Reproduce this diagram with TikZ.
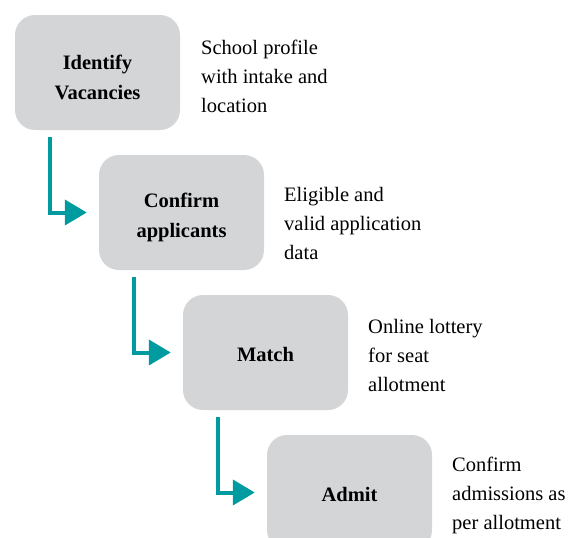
\documentclass[tikz,border=0pt]{standalone}
\usepackage{fontspec}
\setmainfont{Liberation Serif}
\usetikzlibrary{arrows.meta,calc}
\definecolor{boxgray}{RGB}{212,213,215}
\definecolor{tealc}{RGB}{0,155,160}
\begin{document}
\begin{tikzpicture}[x=1pt,y=-1pt,
  stepbox/.style={fill=boxgray, rounded corners=20pt, minimum width=165pt, minimum height=115pt,
    inner sep=0pt},
  steptext/.style={font=\fontsize{20.5}{30}\selectfont\bfseries, align=center, inner sep=0pt},
  note/.style={anchor=west, font=\fontsize{20.5}{29}\selectfont, align=left, inner sep=0pt},
  flow/.style={draw=tealc, line width=4pt, -{Triangle[length=22pt,width=25pt]}}]
\useasboundingbox (0,0) rectangle (582,538);
\clip (0,0) rectangle (582,538);
\node[stepbox] (b1) at (97.5,72.5) {};
\node[stepbox] (b2) at (181.5,212.5) {};
\node[stepbox] (b3) at (265.5,352.5) {};
\node[stepbox] (b4) at (349.5,492.5) {};
\node[steptext] (t1) at ([yshift=-4.5pt]b1.center) {Identify\\Vacancies};
\node[steptext] (t2) at ([yshift=-4.5pt]b2.center) {Confirm\\applicants};
\node[steptext] (t3) at ([yshift=-2pt]b3.center) {Match};
\node[steptext] (t4) at ([yshift=-2pt]b4.center) {Admit};
\node[note] (n1) at (201,76) {School profile\\with intake and\\location};
\node[note] (n2) at (284,223) {Eligible and\\valid application\\data};
\node[note] (n3) at (368,355) {Online lottery\\for seat\\allotment};
\node[note] (n4) at (452,495) {Confirm\\admissions as\\per allotment};
\draw[flow] ([shift={(35,7)}]b1.south west) |- ([xshift=-12pt]b2.west);
\draw[flow] ([shift={(35,7)}]b2.south west) |- ([xshift=-12pt]b3.west);
\draw[flow] ([shift={(35,7)}]b3.south west) |- ([xshift=-12pt]b4.west);
\end{tikzpicture}
\end{document}
